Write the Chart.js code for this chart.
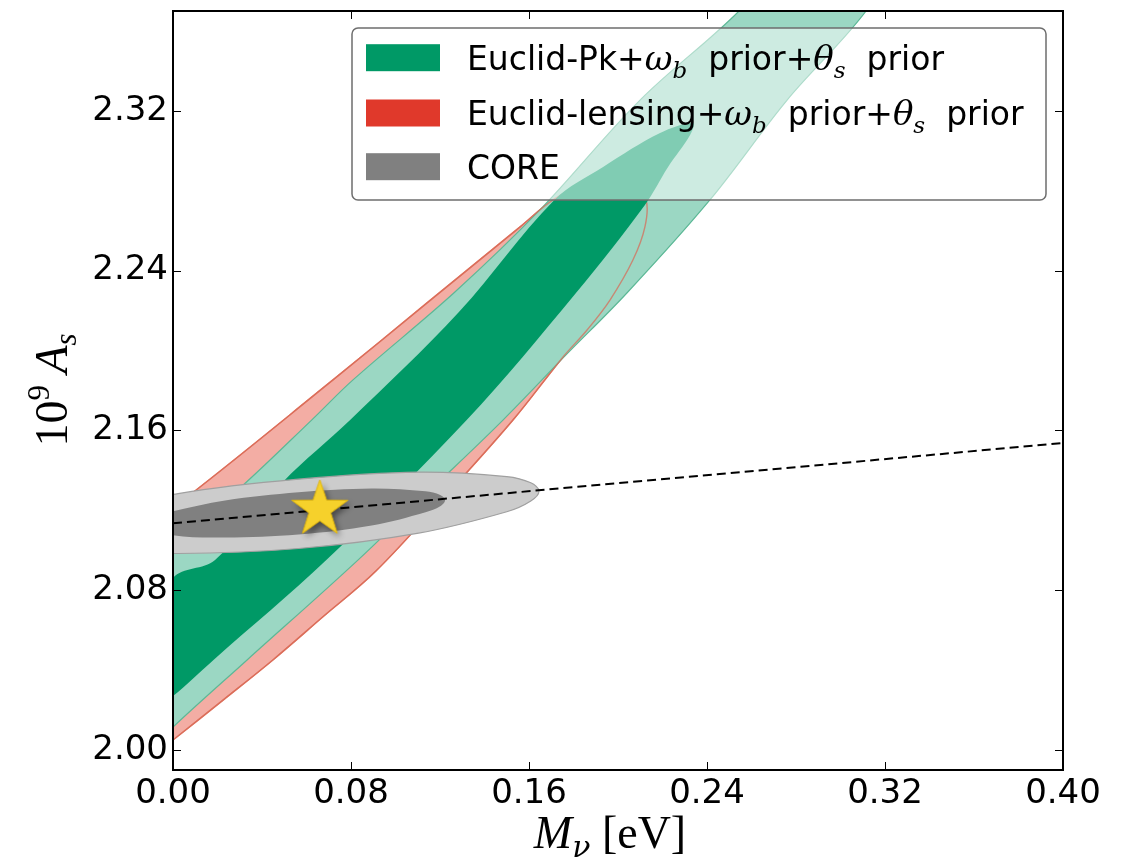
<!DOCTYPE html>
<html lang="en">
<head>
  <meta charset="UTF-8" />
  <title>Mν vs As</title>
  <script src="https://cdn.jsdelivr.net/npm/chart.js"></script>
  <style>
    html, body { margin: 0; padding: 0; background: #fff; }
    #wrap { width: 1135px; height: 861px; }
  </style>
</head>
<body>
  <div id="wrap"><canvas id="chart" width="1135" height="861"></canvas></div>

  <script>
    // tick positions
    const xTicks = [0.00, 0.08, 0.16, 0.24, 0.32, 0.40];
    const yTicks = [2.00, 2.08, 2.16, 2.24, 2.32];

    // contour outlines, [M_nu (eV), 1e9 A_s]
    const pk2sigma = [
      [-0.0238, 2.0551], [0.0000, 2.1026], [0.0306, 2.1317], [0.0623, 2.1652],
      [0.0809, 2.1853], [0.1267, 2.2293], [0.1649, 2.2704], [0.2099, 2.3254],
      [0.2544, 2.3700], [0.2998, 2.4256], [0.3537, 2.4706], [0.3402, 2.4206],
      [0.3115, 2.3700], [0.2760, 2.3254], [0.2413, 2.2754], [0.2040, 2.2288],
      [0.1762, 2.1973], [0.1483, 2.1652], [0.1157, 2.1302], [0.0831, 2.0951],
      [0.0333, 2.0451], [0.0000, 2.0115], [-0.0193, 1.9900], [-0.0328, 2.0050]
    ];
    const pk1sigma = [
      [-0.0193, 2.0451], [0.0000, 2.0861], [0.0189, 2.0951], [0.0494, 2.1342],
      [0.0796, 2.1652], [0.1285, 2.2193], [0.1714, 2.2754], [0.1933, 2.2919],
      [0.2189, 2.3089], [0.2337, 2.3139], [0.2324, 2.3079], [0.2225, 2.2919],
      [0.2121, 2.2729], [0.1811, 2.2288], [0.1320, 2.1652], [0.0689, 2.0951],
      [0.0182, 2.0451], [0.0000, 2.0270], [-0.0148, 2.0150]
    ];
    const lens2sigma = [
      [-0.0148, 1.9950], [-0.0103, 2.1152], [0.0000, 2.1212], [0.0719, 2.1853],
      [0.1139, 2.2236], [0.1560, 2.2619], [0.1708, 2.2754], [0.1861, 2.2839],
      [0.1964, 2.2845], [0.2063, 2.2824], [0.2126, 2.2754], [0.2121, 2.2619],
      [0.2067, 2.2453], [0.1964, 2.2253], [0.1861, 2.2103], [0.1753, 2.1968],
      [0.1528, 2.1652], [0.1229, 2.1277], [0.0912, 2.0896], [0.0674, 2.0667],
      [0.0449, 2.0451], [0.0225, 2.0250], [0.0000, 2.0050]
    ];
    const core2sigma = [
      [-0.0518, 2.1077], [-0.0373, 2.1004], [0.0023, 2.0984], [0.0564, 2.1009],
      [0.1104, 2.1086], [0.1500, 2.1193], [0.1608, 2.1247], [0.1645, 2.1297],
      [0.1608, 2.1338], [0.1500, 2.1369], [0.1104, 2.1391], [0.0564, 2.1356],
      [0.0023, 2.1284], [-0.0373, 2.1182]
    ];
    const core1sigma = [
      [-0.0096, 2.1124], [-0.0008, 2.1077], [0.0234, 2.1064], [0.0564, 2.1079],
      [0.0893, 2.1124], [0.1135, 2.1191], [0.1201, 2.1221], [0.1223, 2.1251],
      [0.1201, 2.1277], [0.1135, 2.1295], [0.0893, 2.1309], [0.0564, 2.1290],
      [0.0234, 2.1249], [-0.0008, 2.1194]
    ];
    const degeneracy = [[0.00, 2.1135], [0.40, 2.1537]];
    const fiducial = [[0.066, 2.1205]];

    const GREEN = 'rgb(0,153,102)';
    const RED = 'rgb(224,57,43)';
    const GREY = 'rgb(128,128,128)';

    const legendItems = [
      { color: GREEN, runs: [['Euclid-Pk+', 'sans'], ['ω', 'math'], ['b', 'sub'], ['  prior+', 'sans'], ['θ', 'math'], ['s', 'sub'], ['  prior', 'sans']] },
      { color: RED, runs: [['Euclid-lensing+', 'sans'], ['ω', 'math'], ['b', 'sub'], ['  prior+', 'sans'], ['θ', 'math'], ['s', 'sub'], ['  prior', 'sans']] },
      { color: GREY, runs: [['CORE', 'sans']] }
    ];

    const fonts = {
      sans: ['33px "DejaVu Sans"', 0],
      math: ['italic 34px "DejaVu Serif"', 0],
      sub: ['italic 23px "DejaVu Serif"', 8],
      big: ['46px "Liberation Serif"', 0],
      bigIt: ['italic 46px "Liberation Serif"', 0],
      greekSub: ['italic 30px "DejaVu Serif"', 9],
      supr: ['31px "Liberation Serif"', -18],
      subIt: ['italic 31px "Liberation Serif"', 9]
    };

    const toXY = arr => arr.map(([x, y]) => ({ x, y }));

    function contour(pts, opts) {
      return Object.assign({
        data: toXY(pts),
        showLine: true,
        fill: 'shape',
        pointRadius: 0,
        tension: 0.35,
        clip: 0
      }, opts);
    }

    // filled star marker with a soft drop shadow
    function starMarker(R) {
      const size = Math.ceil(2 * R + 24);
      const c = document.createElement('canvas');
      c.width = size; c.height = size;
      const g = c.getContext('2d');
      const cx = size / 2, cy = size / 2;
      g.beginPath();
      for (let i = 0; i < 10; i++) {
        const r = i % 2 ? R * 0.39 : R;
        const a = -Math.PI / 2 + i * Math.PI / 5;
        g.lineTo(cx + r * Math.cos(a), cy + r * Math.sin(a));
      }
      g.closePath();
      g.shadowColor = 'rgba(0,0,0,0.45)';
      g.shadowBlur = 6;
      g.shadowOffsetX = 3;
      g.shadowOffsetY = 4;
      g.fillStyle = '#f6d12b';
      g.fill();
      g.shadowColor = 'transparent';
      g.lineWidth = 1;
      g.strokeStyle = '#e2b60a';
      g.stroke();
      return c;
    }

    function runsWidth(ctx, runs) {
      let w = 0;
      for (const [t, f] of runs) { ctx.font = fonts[f][0]; w += ctx.measureText(t).width; }
      return w;
    }
    function drawRuns(ctx, runs, x, y) {
      for (const [t, f] of runs) {
        ctx.font = fonts[f][0];
        ctx.fillText(t, x, y + fonts[f][1]);
        x += ctx.measureText(t).width;
      }
    }

    // frame with inward ticks, legend and axis titles
    const decorations = {
      id: 'decorations',
      afterDatasetsDraw(chart) {
        const { ctx, chartArea: a, scales: { x, y } } = chart;
        ctx.save();
        ctx.strokeStyle = '#000';
        ctx.lineWidth = 1;
        ctx.beginPath();
        xTicks.forEach(v => {
          const px = Math.round(x.getPixelForValue(v)) + 0.5;
          ctx.moveTo(px, a.bottom); ctx.lineTo(px, a.bottom - 8);
          ctx.moveTo(px, a.top); ctx.lineTo(px, a.top + 8);
        });
        yTicks.forEach(v => {
          const py = Math.round(y.getPixelForValue(v)) + 0.5;
          ctx.moveTo(a.left, py); ctx.lineTo(a.left + 8, py);
          ctx.moveTo(a.right, py); ctx.lineTo(a.right - 8, py);
        });
        ctx.stroke();
        ctx.lineWidth = 2;
        ctx.strokeRect(a.left, a.top, a.right - a.left, a.bottom - a.top);

        // legend
        const lx = 352, ly = 28, lw = 694, lh = 172;
        ctx.beginPath();
        ctx.roundRect(lx, ly, lw, lh, 6);
        ctx.fillStyle = 'rgba(255,255,255,0.5)';
        ctx.fill();
        ctx.lineWidth = 1.5;
        ctx.strokeStyle = '#6e6e6e';
        ctx.stroke();
        const rows = [57.7, 113, 166.7];
        legendItems.forEach((item, i) => {
          ctx.fillStyle = item.color;
          ctx.fillRect(366, rows[i] - 13.5, 74, 27);
          ctx.fillStyle = '#000';
          ctx.textBaseline = 'alphabetic';
          ctx.textAlign = 'left';
          drawRuns(ctx, item.runs, 467, rows[i] + 12);
        });

        // axis titles
        const xTitle = [['M', 'bigIt'], ['ν', 'greekSub'], [' [eV]', 'big']];
        const xw = runsWidth(ctx, xTitle);
        drawRuns(ctx, xTitle, 610 - xw / 2, 848);

        const yTitle = [['10', 'big'], ['9', 'supr'], [' A', 'bigIt'], ['s', 'subIt']];
        const yw = runsWidth(ctx, yTitle);
        ctx.translate(67, 390);
        ctx.rotate(-Math.PI / 2);
        drawRuns(ctx, yTitle, -yw / 2, 0);
        ctx.restore();
      }
    };

    new Chart(document.getElementById('chart'), {
      type: 'line',
      data: {
        datasets: [
          {
            label: 'fiducial',
            data: toXY(fiducial),
            showLine: false,
            pointStyle: starMarker(29.5),
            pointRadius: 30,
            order: 0
          },
          {
            label: 'degeneracy',
            data: toXY(degeneracy),
            borderColor: '#000',
            borderWidth: 2,
            borderDash: [9, 5],
            pointRadius: 0,
            fill: false,
            clip: 0,
            order: 1
          },
          contour(core1sigma, { label: 'CORE 1σ', backgroundColor: GREY, borderWidth: 0, order: 2 }),
          contour(core2sigma, { label: 'CORE 2σ', backgroundColor: 'rgb(204,204,204)', borderColor: 'rgb(160,160,160)', borderWidth: 1.2, order: 3 }),
          contour(pk1sigma, { label: 'Pk 1σ', backgroundColor: GREEN, borderWidth: 0, order: 4 }),
          contour(lens2sigma, { label: 'lensing 2σ edge', fill: false, backgroundColor: 'transparent', borderColor: 'rgba(214,110,90,0.75)', borderWidth: 1.4, order: 5 }),
          contour(pk2sigma, { label: 'Pk 2σ', backgroundColor: 'rgb(155,215,195)', borderColor: 'rgb(92,184,150)', borderWidth: 1.2, order: 6 }),
          contour(lens2sigma, { label: 'lensing 2σ', backgroundColor: 'rgb(243,173,164)', borderColor: 'rgb(232,112,92)', borderWidth: 1.4, order: 7 })
        ]
      },
      options: {
        responsive: false,
        animation: false,
        devicePixelRatio: 1,
        events: [],
        layout: { autoPadding: false, padding: { top: 11, right: 72, left: 0, bottom: 0 } },
        elements: { line: { capBezierPoints: false } },
        plugins: { legend: { display: false }, tooltip: { enabled: false } },
        scales: {
          x: {
            type: 'linear',
            min: 0,
            max: 0.40,
            grid: { display: false, drawTicks: false },
            border: { display: false },
            afterBuildTicks: s => { s.ticks = xTicks.map(v => ({ value: v })); },
            afterFit: s => { s.height = 91; s.paddingLeft = 0; s.paddingRight = 0; },
            ticks: {
              padding: 4,
              color: '#000',
              font: { family: 'DejaVu Sans', size: 34 },
              callback: v => v.toFixed(2)
            }
          },
          y: {
            type: 'linear',
            min: 1.99,
            max: 2.37,
            grid: { display: false, drawTicks: false },
            border: { display: false },
            afterBuildTicks: s => { s.ticks = yTicks.map(v => ({ value: v })); },
            afterFit: s => { s.width = 173; s.paddingTop = 0; s.paddingBottom = 0; },
            ticks: {
              padding: 5,
              color: '#000',
              font: { family: 'DejaVu Sans', size: 34 },
              callback: v => v.toFixed(2)
            }
          }
        }
      },
      plugins: [decorations]
    });
  </script>
</body>
</html>
